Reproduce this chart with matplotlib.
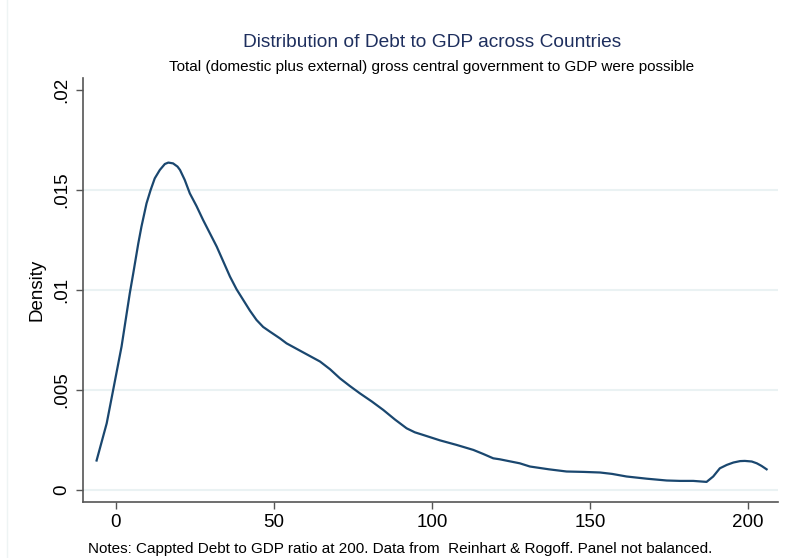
import matplotlib.pyplot as plt
from matplotlib.lines import Line2D

plt.rcParams['font.family'] = ['Liberation Sans', 'DejaVu Sans']

# kernel density of debt/GDP (read off the estimate)
debt = [-6.1, -4.5, -2.9, -0.85, 1.8, 4.4, 5.5, 7.1, 8.1, 9.7, 11, 12.3, 13.9,
        15.5, 16.6, 18.1, 19.5, 20.3, 21.8, 23.4, 25.5, 27.6, 29.7, 31.9, 34,
        36.1, 38.2, 40.3, 42.4, 44.5, 46.6, 48.7, 51.9, 54, 59, 64.6, 67.8, 70.9,
        74, 77.2, 81, 84.6, 88.3, 92, 94.6, 97.2, 102.5, 107.8, 113.1, 116.2,
        119.4, 121.5, 124, 127.8, 131, 137, 142.6, 148, 153.2, 157, 161.6, 168,
        174.3, 178.5, 182.7, 186.9, 189, 191.1, 193.3, 195.4, 197.5, 199, 201.2,
        202.8, 204.3, 205.9]
density = [0.00147, 0.0024, 0.00333, 0.005, 0.00717, 0.00983, 0.01083, 0.01233,
           0.01317, 0.01433, 0.015, 0.01558, 0.016, 0.0163, 0.01637, 0.01633,
           0.01617, 0.016, 0.0155, 0.01483, 0.0142, 0.0135, 0.01285, 0.01217,
           0.01142, 0.01067, 0.01003, 0.0095, 0.00897, 0.0085, 0.00815, 0.00792,
           0.00758, 0.00733, 0.0069, 0.00642, 0.00603, 0.00558, 0.0052, 0.00483,
           0.00442, 0.004, 0.00352, 0.00308, 0.00288, 0.00275, 0.00248, 0.00225,
           0.002, 0.0018, 0.00158, 0.00153, 0.00145, 0.00133, 0.00117, 0.00103,
           0.00092, 0.0009, 0.00087, 0.0008, 0.00067, 0.00056, 0.00047, 0.00045,
           0.00045, 0.0004, 0.00067, 0.00108, 0.00125, 0.00137, 0.00144, 0.00145,
           0.00142, 0.00133, 0.0012, 0.00103]

xticks = [0, 50, 100, 150, 200]
yticks = [0, 0.005, 0.01, 0.015, 0.02]
ylabels = ['0', '.005', '.01', '.015', '.02']

fig = plt.figure(figsize=(7.95, 5.58), dpi=100)
ax = fig.add_axes([0.1044, 0.1009, 0.8742, 0.7593])

for yt in yticks[:-1]:
    ax.axhline(yt, color='#eaf2f3', lw=1.5, zorder=0)

ax.plot(debt, density, color='#1a476f', lw=1.6, solid_joinstyle='round')

ax.set_xlim(-10.4, 209.5)
ax.set_ylim(-0.00059, 0.0206)
ax.set_xticks(xticks)
ax.set_xticklabels([str(v) for v in xticks])
ax.set_yticks(yticks)
ax.set_yticklabels(ylabels, rotation=90, va='center')
ax.tick_params(axis='both', labelsize=13.5, length=5, width=1, color='#555555',
               direction='out', pad=4)

for side in ['top', 'right']:
    ax.spines[side].set_visible(False)
for side in ['left', 'bottom']:
    ax.spines[side].set_color('#555555')
    ax.spines[side].set_linewidth(1.2)

ax.set_ylabel('Density', fontsize=13.5, labelpad=6)

fig.text(0.543, 0.924, 'Distribution of Debt to GDP across Countries',
         ha='center', va='center', fontsize=13.8, color='#1e2f5e')
fig.text(0.543, 0.880, 'Total (domestic plus external) gross central government to GDP were possible',
         ha='center', va='center', fontsize=11)
fig.text(0.111, 0.016, 'Notes: Cappted Debt to GDP ratio at 200. Data from  Reinhart & Rogoff. Panel not balanced.',
         ha='left', va='center', fontsize=11)

# faint outer frame line on the left
fig.add_artist(Line2D([0.009, 0.009], [0, 1], transform=fig.transFigure,
                      color='#eef4f4', lw=1))

fig.savefig('out.png', dpi=100)
